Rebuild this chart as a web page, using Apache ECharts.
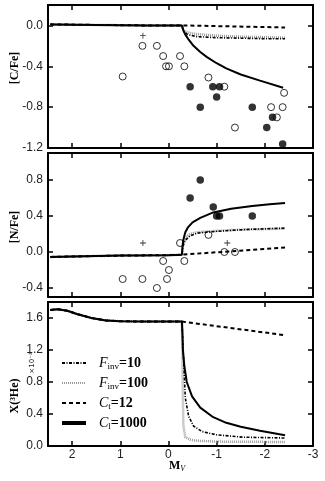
<!DOCTYPE html>
<html><head><meta charset="utf-8">
<script src="https://cdn.jsdelivr.net/npm/echarts@6/dist/echarts.min.js"></script>
<style>html,body{margin:0;padding:0;background:#fff}#c{width:325px;height:481px}</style>
</head><body><div id="c"></div>
<script>
// ---------- tick values ----------
const xTicks = [2, 1, 0, -1, -2, -3];
const cfeTicks = [0.0, -0.4, -0.8, -1.2];
const nfeTicks = [0.8, 0.4, 0.0, -0.4];
const heTicks = [0.0, 0.4, 0.8, 1.2, 1.6];

// ---------- observations: [C/Fe] ----------
const cfeOpenX = [0.95, 0.54, 0.24, 0.11, 0.05, -0.01, -0.24, -0.33, -0.83, -1.16, -1.38, -2.13, -2.37, -2.25, -2.40];
const cfeOpenY = [-0.5, -0.2, -0.2, -0.3, -0.4, -0.4, -0.3, -0.4, -0.51, -0.6, -1.0, -0.8, -0.8, -0.9, -0.66];
const cfeFillX = [-0.45, -0.66, -0.92, -1.06, -1.0, -1.74, -2.04, -2.16, -2.37];
const cfeFillY = [-0.6, -0.8, -0.6, -0.6, -0.7, -0.8, -1.0, -0.9, -1.16];
const cfeCrossX = [0.53];
const cfeCrossY = [-0.1];

// ---------- observations: [N/Fe] ----------
const nfeOpenX = [0.95, 0.54, 0.24, 0.11, 0.03, -0.01, -0.24, -0.33, -0.83, -1.16, -1.38];
const nfeOpenY = [-0.3, -0.3, -0.4, -0.1, -0.3, -0.2, 0.1, -0.1, 0.19, 0.0, 0.0];
const nfeFillX = [-0.45, -0.66, -0.93, -1.0, -1.06, -1.74];
const nfeFillY = [0.6, 0.8, 0.5, 0.4, 0.4, 0.4];
const nfeCrossX = [0.53, -1.22];
const nfeCrossY = [0.1, 0.1];

// ---------- models: [C/Fe] ----------
const cfePreX = [2.45, 1.5, 0.5, -0.28];
const cfePreY = [0.01, 0.005, 0.0, 0.0];
const cfeSolidX = [-0.29, -0.31, -0.35, -0.42, -0.52, -0.66, -0.8, -1.0, -1.2, -1.5, -1.9, -2.38];
const cfeSolidY = [-0.02, -0.05, -0.09, -0.14, -0.2, -0.26, -0.31, -0.37, -0.42, -0.48, -0.54, -0.61];
const cfeDashX = [-2.42];
const cfeDashY = [-0.02];
const cfeF10X = [-0.32, -0.4, -0.6, -1.0, -1.5, -2.0, -2.42];
const cfeF10Y = [-0.06, -0.09, -0.11, -0.12, -0.125, -0.13, -0.13];
const cfeF100X = [-0.3, -0.35, -0.45, -0.6, -1.0, -1.5, -2.0, -2.42];
const cfeF100Y = [-0.04, -0.06, -0.075, -0.085, -0.1, -0.11, -0.115, -0.12];

// ---------- models: [N/Fe] ----------
const nfePreX = [2.45, 2.0, 1.0, 0.0, -0.28];
const nfePreY = [-0.055, -0.05, -0.04, -0.035, -0.03];
const nfeSolidX = [-0.29, -0.31, -0.35, -0.4, -0.5, -0.66, -0.93, -1.3, -1.74, -2.1, -2.42];
const nfeSolidY = [0.05, 0.14, 0.22, 0.27, 0.33, 0.38, 0.44, 0.48, 0.51, 0.53, 0.545];
const nfeDashX = [-2.42];
const nfeDashY = [0.05];
const nfeF10X = [-0.3, -0.35, -0.45, -0.6, -1.0, -1.6, -2.42];
const nfeF10Y = [0.06, 0.13, 0.18, 0.21, 0.23, 0.25, 0.265];
const nfeF100X = [-0.3, -0.35, -0.45, -0.6, -1.0, -1.6, -2.42];
const nfeF100Y = [0.09, 0.16, 0.2, 0.22, 0.235, 0.25, 0.26];

// ---------- models: X(3He) ----------
const hePreX = [2.45, 2.3, 2.1, 1.9, 1.6, 1.3, 1.0, 0.5, -0.28];
const hePreY = [1.70, 1.71, 1.69, 1.65, 1.60, 1.57, 1.56, 1.555, 1.555];
const heSolidX = [-0.29, -0.30, -0.33, -0.38, -0.49, -0.66, -0.93, -1.2, -1.5, -1.9, -2.42];
const heSolidY = [1.40, 1.2, 1.0, 0.8, 0.62, 0.48, 0.36, 0.29, 0.24, 0.19, 0.135];
const heDashX = [-2.42];
const heDashY = [1.385];
const heF10X = [-0.30, -0.32, -0.35, -0.42, -0.52, -0.7, -1.0, -1.56, -2.42];
const heF10Y = [1.3, 1.0, 0.6, 0.37, 0.25, 0.18, 0.14, 0.11, 0.10];
const heF100X = [-0.29, -0.30, -0.31, -0.35, -0.45, -0.6, -1.0, -2.42];
const heF100Y = [1.1, 0.58, 0.25, 0.11, 0.08, 0.065, 0.055, 0.05];

const names = { f10: 'F_inv=10', f100: 'F_inv=100', ct: 'C_t=12', cl: 'C_l=1000' };

// ---------- helpers ----------
const pairs = (xs, ys) => xs.map((x, i) => [x, ys[i]]);
const joined = (px, py, xs, ys) => pairs(px.concat(xs), py.concat(ys));

const styles = {
  [names.f10]: { color: '#000', width: 1.6, type: [3, 1.5, 1, 1.5] },
  [names.f100]: { color: '#999', width: 2.5, type: [1, 1] },
  [names.ct]: { color: '#000', width: 2, type: [4, 3] },
  [names.cl]: { color: '#000', width: 2, type: 'solid' }
};

const series = [];
function addModel(ax, name, data, z) {
  series.push({ type: 'line', name: name, xAxisIndex: ax, yAxisIndex: ax, data: data,
    symbol: 'none', showSymbol: false, lineStyle: styles[name], itemStyle: { color: styles[name].color },
    z: z, silent: true, animation: false });
}
function addScatter(ax, xs, ys, kind) {
  const s = { type: 'scatter', xAxisIndex: ax, yAxisIndex: ax, data: pairs(xs, ys), silent: true, animation: false, z: 10 };
  if (kind === 'open') { s.symbol = 'circle'; s.symbolSize = 7; s.itemStyle = { color: 'rgba(255,255,255,0)', borderColor: '#000', borderWidth: 1 }; }
  else if (kind === 'fill') { s.symbol = 'circle'; s.symbolSize = 7.5; s.itemStyle = { color: '#000' }; }
  else { s.symbol = 'path://M4.3,0h1.4v10h-1.4zM0,4.3h10v1.4h-10z'; s.symbolSize = 6; s.itemStyle = { color: '#000' }; }
  series.push(s);
}

// panel 1
addModel(0, names.f100, joined(cfePreX, cfePreY, cfeF100X, cfeF100Y), 2);
addModel(0, names.f10, joined(cfePreX, cfePreY, cfeF10X, cfeF10Y), 3);
addModel(0, names.ct, joined(cfePreX, cfePreY, cfeDashX, cfeDashY), 4);
addModel(0, names.cl, joined(cfePreX, cfePreY, cfeSolidX, cfeSolidY), 5);
addScatter(0, cfeOpenX, cfeOpenY, 'open');
addScatter(0, cfeFillX, cfeFillY, 'fill');
addScatter(0, cfeCrossX, cfeCrossY, 'cross');
// panel 2
addModel(2, names.f100, joined(nfePreX, nfePreY, nfeF100X, nfeF100Y), 2);
addModel(2, names.f10, joined(nfePreX, nfePreY, nfeF10X, nfeF10Y), 3);
addModel(2, names.ct, joined(nfePreX, nfePreY, nfeDashX, nfeDashY), 4);
addModel(2, names.cl, joined(nfePreX, nfePreY, nfeSolidX, nfeSolidY), 5);
addScatter(2, nfeOpenX, nfeOpenY, 'open');
addScatter(2, nfeFillX, nfeFillY, 'fill');
addScatter(2, nfeCrossX, nfeCrossY, 'cross');
// panel 3
addModel(4, names.f100, joined(hePreX, hePreY, heF100X, heF100Y), 2);
addModel(4, names.f10, joined(hePreX, hePreY, heF10X, heF10Y), 3);
addModel(4, names.ct, joined(hePreX, hePreY, heDashX, heDashY), 4);
addModel(4, names.cl, joined(hePreX, hePreY, heSolidX, heSolidY), 5);

const tickFont = { fontFamily: '"Liberation Sans", Arial, sans-serif', fontSize: 12, color: '#222' };
const lineSt = { color: '#000', width: 2 };
function xAx(gi, pos, showLabel) {
  return { type: 'value', gridIndex: gi, position: pos, min: -3, max: 2.5, inverse: true,
    axisLine: { show: true, onZero: false, lineStyle: lineSt },
    axisTick: { show: true, inside: true, length: 5, customValues: xTicks, lineStyle: { color: '#000', width: 1.5 } },
    axisLabel: Object.assign({ show: showLabel, margin: 3, customValues: xTicks, formatter: v => String(Math.round(v)) }, tickFont),
    splitLine: { show: false } };
}
function yAx(gi, pos, min, max, ticks, showLabel) {
  return { type: 'value', gridIndex: gi, position: pos, min: min, max: max,
    axisLine: { show: true, onZero: false, lineStyle: lineSt },
    axisTick: { show: true, inside: true, length: 5, customValues: ticks, lineStyle: { color: '#000', width: 1.5 } },
    axisLabel: Object.assign({ show: showLabel, margin: 5, customValues: ticks, formatter: v => (Math.abs(v) < 1e-9 ? 0 : v).toFixed(1) }, tickFont),
    splitLine: { show: false } };
}

const serif = '"Liberation Serif", "DejaVu Serif", serif';
const legendRich = {
  F: { fontFamily: serif, fontStyle: 'italic', fontSize: 14, lineHeight: 16, color: '#000', padding: [0, 0, 0, 8] },
  sub: { fontFamily: serif, fontSize: 9, lineHeight: 16, verticalAlign: 'bottom', color: '#000' },
  v: { fontFamily: serif, fontWeight: 'bold', fontSize: 14, lineHeight: 16, color: '#000' }
};
const legendLabel = {
  [names.f10]: '{F|F}{sub|inv}{v|=10}',
  [names.f100]: '{F|F}{sub|inv}{v|=100}',
  [names.ct]: '{F|C}{sub|t}{v|=12}',
  [names.cl]: '{F|C}{sub|l}{v|=1000}'
};

const option = {
  backgroundColor: '#fff',
  animation: false,
  grid: [
    { left: 48, right: 12, top: 5, height: 143, outerBoundsMode: 'none', containLabel: false },
    { left: 48, right: 12, top: 153, height: 144, outerBoundsMode: 'none', containLabel: false },
    { left: 48, right: 12, top: 302, height: 144, outerBoundsMode: 'none', containLabel: false }
  ],
  xAxis: [xAx(0, 'bottom', false), xAx(0, 'top', false), xAx(1, 'bottom', false), xAx(1, 'top', false), xAx(2, 'bottom', true), xAx(2, 'top', false)],
  yAxis: [
    yAx(0, 'left', -1.2, 0.2, cfeTicks, true), yAx(0, 'right', -1.2, 0.2, cfeTicks, false),
    yAx(1, 'left', -0.5, 1.1, nfeTicks, true), yAx(1, 'right', -0.5, 1.1, nfeTicks, false),
    yAx(2, 'left', 0, 1.8, heTicks, true), yAx(2, 'right', 0, 1.8, heTicks, false)
  ],
  legend: {
    orient: 'vertical', left: 60, top: 356, itemWidth: 24, itemHeight: 10, itemGap: 5,
    selectedMode: false, padding: 0,
    itemStyle: { opacity: 0 },
    data: [
      { name: names.f10 },
      { name: names.f100 },
      { name: names.ct },
      { name: names.cl, lineStyle: { width: 4 } }
    ],
    formatter: n => legendLabel[n],
    textStyle: { rich: legendRich, color: '#000' }
  },
  graphic: [
    { type: 'text', x: 15, y: 68, rotation: Math.PI / 2, style: { text: '[C/Fe]', fontFamily: serif, fontWeight: 'bold', fontSize: 12, fill: '#000', align: 'center', verticalAlign: 'middle' } },
    { type: 'text', x: 15, y: 227, rotation: Math.PI / 2, style: { text: '[N/Fe]', fontFamily: serif, fontWeight: 'bold', fontSize: 12, fill: '#000', align: 'center', verticalAlign: 'middle' } },
    { type: 'text', x: 15, y: 396, rotation: Math.PI / 2, style: { text: 'X(\u00B3He)', fontFamily: serif, fontWeight: 'bold', fontSize: 12, fill: '#000', align: 'center', verticalAlign: 'middle' } },
    { type: 'text', x: 32, y: 363, rotation: Math.PI / 2, style: { text: '\u00D710\u207B\u00B3', fontFamily: '"DejaVu Sans", sans-serif', fontSize: 7, fill: '#222', align: 'center', verticalAlign: 'middle' } },
    { type: 'text', x: 177, y: 466, style: { text: '{m|M}{v|V}', align: 'center', verticalAlign: 'middle',
        rich: { m: { fontFamily: serif, fontWeight: 'bold', fontSize: 12, lineHeight: 14, fill: '#000' },
                v: { fontFamily: serif, fontStyle: 'italic', fontSize: 8, lineHeight: 14, verticalAlign: 'bottom', fill: '#000' } } } }
  ],
  series: series
};
const chart = echarts.init(document.getElementById('c'), null, { renderer: 'canvas' });
chart.setOption(option);
</script></body></html>
